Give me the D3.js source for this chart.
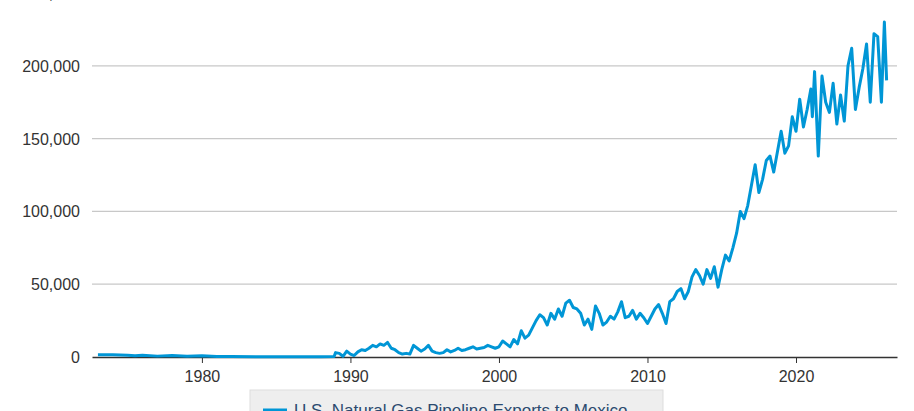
<!DOCTYPE html><html><head><meta charset="utf-8">
<script src="https://cdn.jsdelivr.net/npm/d3@7"></script>
<style>body{margin:0;background:#fff;font-family:"Liberation Sans",Arial,sans-serif}</style></head><body>
<svg id="c" width="914" height="411"></svg>
<script>
const seriesName = "U.S. Natural Gas Pipeline Exports to Mexico";
const yTicks = [0,50000,100000,150000,200000,250000];
const xTicks = [1980,1990,2000,2010,2020];
const times = [1973,1974,1975,1975.5,1976,1977,1978,1979,1980,1981,1982,1984,1986,1988,1988.9,
1989.0,1989.25,1989.5,1989.75,1990.0,1990.25,1990.5,1990.75,1991.0,1991.25,1991.5,1991.75,1992.0,1992.25,1992.5,1992.75,1993.0,1993.25,1993.5,1993.75,1994.0,1994.25,1994.5,1994.75,1995.0,1995.25,1995.5,1995.75,1996.0,1996.25,1996.5,1996.75,1997.0,1997.25,1997.5,1997.75,1998.0,1998.25,1998.5,1998.75,1999.0,1999.25,1999.5,1999.75,2000.0,2000.25,2000.5,2000.75,2001.0,2001.25,2001.5,2001.75,2002.0,2002.25,2002.5,2002.75,2003.0,2003.25,2003.5,2003.75,2004.0,2004.25,2004.5,2004.75,2005.0,2005.25,2005.5,2005.75,2006.0,2006.25,2006.5,2006.75,2007.0,2007.25,2007.5,2007.75,2008.0,2008.25,2008.5,2008.75,2009.0,2009.25,2009.5,2009.75,2010.0,2010.25,2010.5,2010.75,2011.0,2011.25,2011.5,2011.75,2012.0,2012.25,2012.5,2012.75,2013.0,2013.25,2013.5,2013.75,2014.0,2014.25,2014.5,2014.75,2015.0,2015.25,2015.5,2015.75,2016.0,2016.25,2016.5,2016.75,2017.0,2017.25,2017.5,2017.75,2018.0,2018.25,2018.5,2018.75,2019.0,2019.25,2019.5,2019.75,2020.0,2020.25,2020.5,2020.75,2021.0,2021.1,2021.25,2021.5,2021.75,2022.0,2022.25,2022.5,2022.75,2023.0,2023.25,2023.5,2023.75,2024.0,2024.25,2024.5,2024.75,2025.0,2025.25,2025.5,2025.75,2025.95,2026.1];
const values = [1500,1500,1200,800,1200,600,1000,500,800,400,300,200,200,200,300,
3000,2500,500,4000,2000,1000,3500,5000,4500,6000,8000,7000,9000,8000,10000,6000,5000,3000,2000,2500,2000,8000,6000,4000,5500,8000,4000,3000,2500,3000,5000,3500,4500,6000,4500,5000,6000,7000,5500,6000,6500,8000,7000,6000,7000,11000,9000,7000,12000,9000,18000,13000,15000,20000,25000,29000,27000,22000,30000,26000,33000,28000,37000,39000,34000,33000,30000,22000,26000,19000,35000,30000,22000,24000,28000,26000,31000,38000,27000,28000,32000,26000,30000,27000,23000,28000,33000,36000,30000,23000,38000,40000,45000,47000,40000,45000,55000,60000,56000,50000,60000,54000,62000,48000,60000,70000,66000,75000,85000,100000,95000,104000,118000,132000,113000,122000,135000,138000,127000,141000,155000,140000,145000,165000,155000,177000,158000,170000,184000,165000,196000,138000,193000,175000,168000,188000,160000,180000,162000,200000,212000,170000,185000,198000,215000,175000,222000,220000,175000,230000,190000,185000,178000,197000];
const left=92, right=897;
const svg=d3.select("#c");
const x=d3.scaleLinear().domain([1972.6,2026.8]).range([left,right]);
const y=d3.scaleLinear().domain([0,250000]).range([357,-7]);
const g=svg.append("g");
yTicks.forEach(t=>{ if(t>0) g.append("line").attr("x1",left).attr("x2",right).attr("y1",y(t)).attr("y2",y(t)).attr("stroke","#c8c8c8").attr("stroke-width",1.2);
 g.append("text").attr("x",80).attr("y",y(t)+6).attr("text-anchor","end").attr("font-size",16).attr("fill","#333").text(d3.format(",")(t));});
const xa=svg.append("g").attr("transform","translate(0,357)").call(d3.axisBottom(x).tickValues(xTicks).tickFormat(d3.format("d")).tickSize(6).tickSizeOuter(0));
xa.select(".domain").attr("stroke","#333").attr("stroke-width",1.5);
xa.selectAll(".tick line").attr("stroke","#333");
xa.selectAll("text").attr("font-size",16).attr("fill","#333").attr("dy","1em").attr("font-family","Liberation Sans, Arial");
const pts=times.map((t,i)=>[t,values[i]]);
svg.append("path").datum(pts).attr("fill","none").attr("stroke","#0096d6").attr("stroke-width",3).attr("stroke-linejoin","round")
 .attr("d",d3.line().x(d=>x(d[0])).y(d=>y(d[1])));
const lg=svg.append("g");
lg.append("rect").attr("x",250).attr("y",390).attr("width",413).attr("height",30).attr("fill","#eeeeee").attr("stroke","#ddd");
lg.append("line").attr("x1",263).attr("x2",287).attr("y1",410).attr("y2",410).attr("stroke","#0096d6").attr("stroke-width",3);
lg.append("text").attr("x",294).attr("y",416).attr("font-size",17).attr("fill","#2b4a6f").text(seriesName);
</script></body></html>
